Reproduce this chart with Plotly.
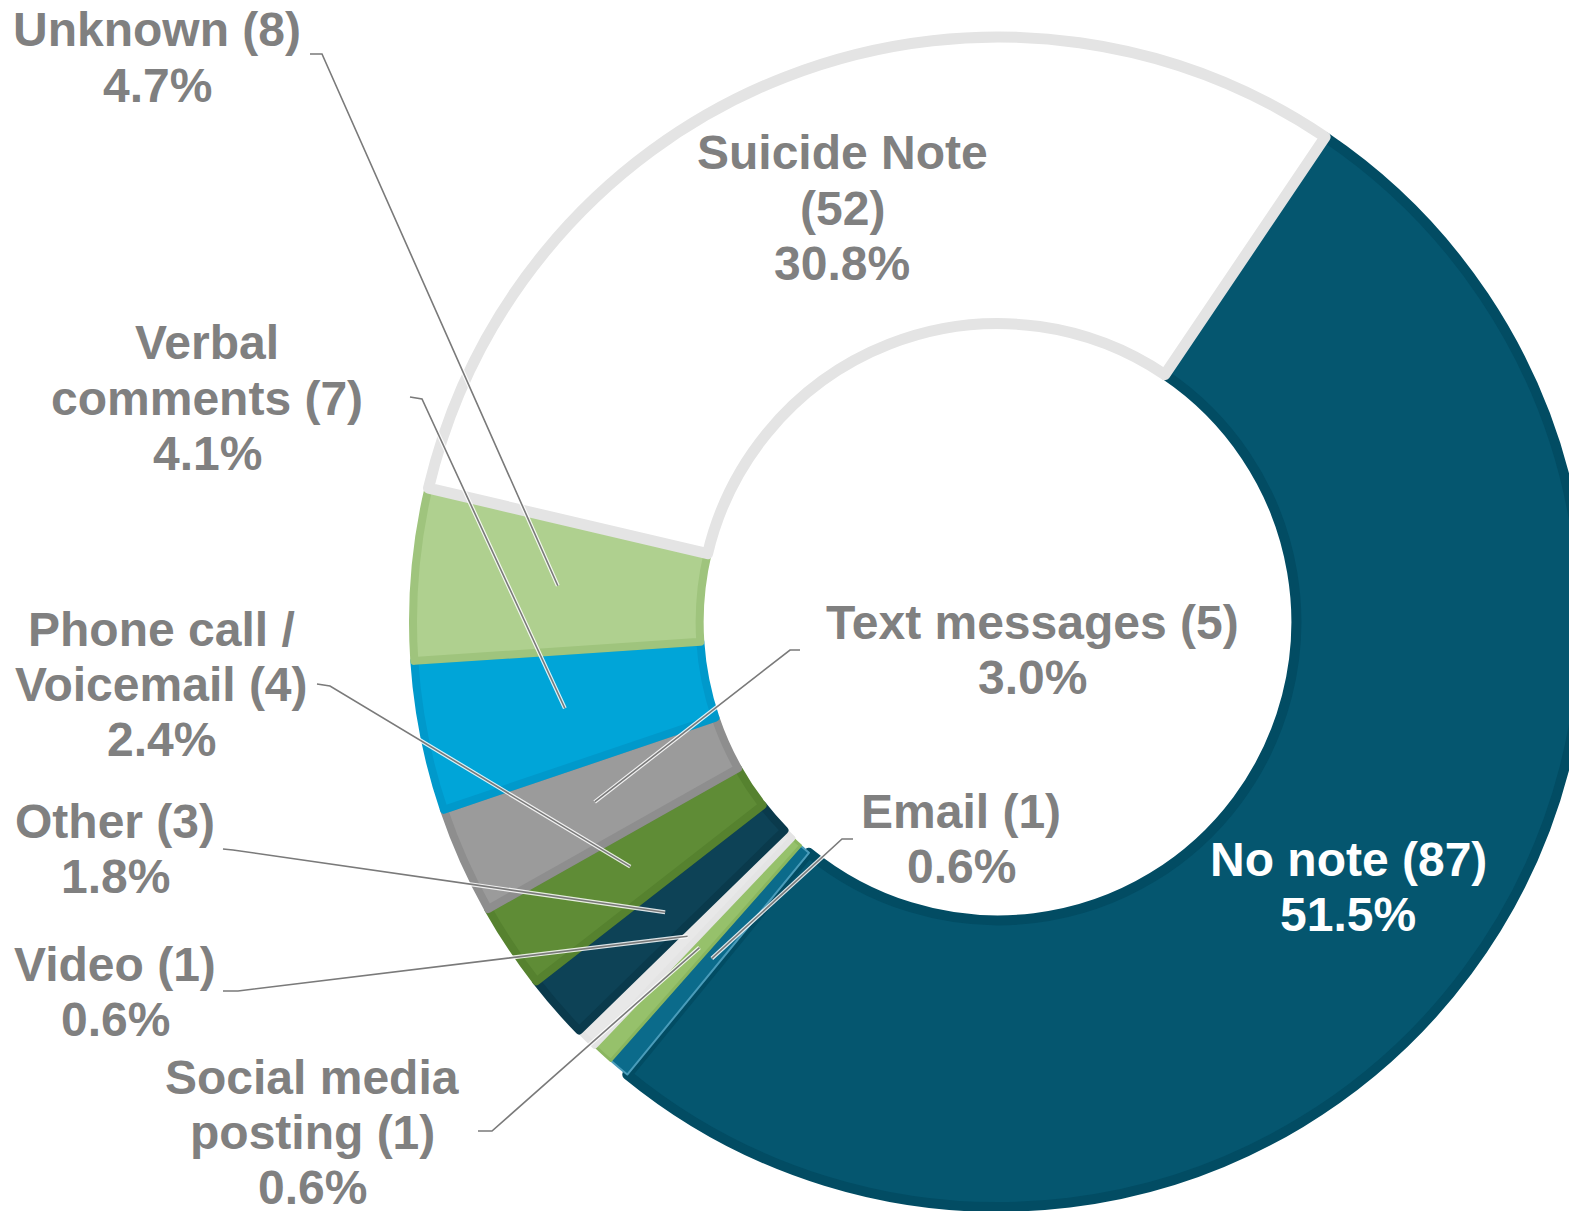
import math
import plotly.graph_objects as go

# ---------------- data ----------------
categories = ["No note", "Email", "Social media posting", "Video", "Other",
              "Phone call / Voicemail", "Text messages", "Verbal comments",
              "Unknown", "Suicide Note"]
counts = [87, 1, 1, 1, 3, 4, 5, 7, 8, 52]
percent_labels = ["51.5%", "0.6%", "0.6%", "0.6%", "1.8%", "2.4%", "3.0%",
                  "4.1%", "4.7%", "30.8%"]
label_lines = [
    ["No note (87)"],
    ["Email (1)"],
    ["Social media", "posting (1)"],
    ["Video (1)"],
    ["Other (3)"],
    ["Phone call /", "Voicemail (4)"],
    ["Text messages (5)"],
    ["Verbal", "comments (7)"],
    ["Unknown (8)"],
    ["Suicide Note", "(52)"],
]

# ---------------- style / layout ----------------
W, H = 1577, 1211
fills = ["#05566f", "#0b6b8b", "#96c16b", "#e8e8e8", "#0d4256",
         "#5f8c36", "#9b9b9b", "#00a5d8", "#afd08f", "#ffffff"]
edges = ["#024c63", "#4a9cba", "#8ab65f", "#e4e4e4", "#0a3a4c",
         "#56822f", "#8e8e8e", "#0099cb", "#9fc47d", "#e4e4e4"]
edge_w = [10, 2, 3, 6, 8, 8, 8, 8, 8, 11]
rotation = 34.0
cx, cy, R = 990.0, 614.0, 585.0
hole = 0.51

# label placement: (center x px, first line center y px, font colour, leader pts or None)
label_pos = [
    (1340, 851, "#ffffff", None),
    (953, 803, "#808080", [(845, 831), (834, 831)]),
    (304, 1069, "#808080", [(470, 1123), (484, 1123)]),
    (107, 956, "#808080", [(215, 983), (230, 983)]),
    (107, 813, "#808080", [(215, 841), (225, 842)]),
    (153, 621, "#808080", [(309, 676), (322, 678)]),
    (1024, 614, "#808080", [(792, 642), (782, 642)]),
    (199, 335, "#808080", [(402, 389), (414, 391)]),
    (149, 22, "#808080", [(302, 46), (314, 46)]),
    (834, 145, "#808080", None),
]
line_step = 55.3
font_size = 48
font_family = "Liberation Sans, Arial, sans-serif"

fig = go.Figure(go.Pie(
    labels=categories,
    values=counts,
    sort=False,
    direction="clockwise",
    rotation=rotation,
    hole=hole,
    textinfo="none",
    hoverinfo="label+value+percent",
    marker=dict(colors=fills, line=dict(color=edges, width=edge_w)),
    domain=dict(x=[(cx - R) / W, min(1.0, (cx + R) / W)],
                y=[1 - (cy + R) / H, 1 - (cy - R) / H]),
    showlegend=False,
))


def px(x):
    return x / W


def py(y):
    return 1 - y / H


annotations = []
shapes = []
total = sum(counts)
cum = 0.0
r_mid = R * (1 + hole) / 2
for i, (cat, v) in enumerate(zip(categories, counts)):
    mid = rotation + (cum + v / 2) / total * 360.0
    cum += v
    ax = cx + r_mid * math.sin(math.radians(mid))
    ay = cy - r_mid * math.cos(math.radians(mid))
    lx, ly, col, leader = label_pos[i]
    lines = label_lines[i] + [percent_labels[i]]
    for k, t in enumerate(lines):
        annotations.append(dict(
            x=px(lx), y=py(ly + k * line_step), xref="paper", yref="paper",
            text=t, showarrow=False, xanchor="center", yanchor="middle",
            font=dict(family=font_family, size=font_size, color=col, weight="bold"),
        ))
    if leader:
        pts = leader + [(ax, ay)]
        path = "M " + " L ".join(f"{px(x):.5f},{py(y):.5f}" for x, y in pts)
        shapes.append(dict(type="path", path=path, xref="paper", yref="paper",
                           line=dict(color="rgba(255,255,255,0.85)", width=4), layer="above"))
        shapes.append(dict(type="path", path=path, xref="paper", yref="paper",
                           line=dict(color="#7a7a7a", width=1.6), layer="above"))

fig.update_layout(
    width=W, height=H,
    margin=dict(l=0, r=0, t=0, b=0),
    paper_bgcolor="#ffffff",
    plot_bgcolor="#ffffff",
    annotations=annotations,
    shapes=shapes,
)

fig.write_html("out.html")
